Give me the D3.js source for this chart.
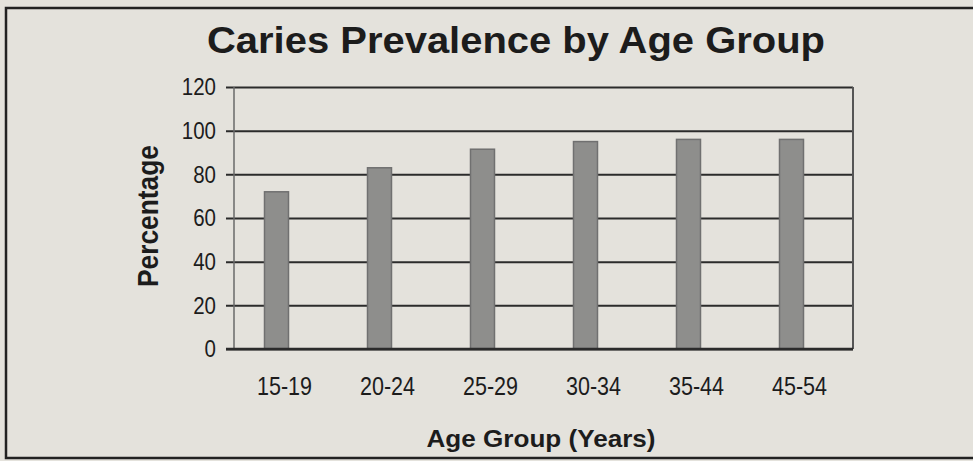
<!DOCTYPE html>
<html>
<head>
<meta charset="utf-8">
<script src="https://cdn.jsdelivr.net/npm/d3@7"></script>
<style>
  body { margin: 0; background: #e4e2dc; }
  svg { display: block; }
  text { font-family: "Liberation Sans", Arial, Helvetica, sans-serif; fill: #1c1c1c; }
</style>
</head>
<body>
<svg id="chart"></svg>
<script>
// values
const ageGroups = ["15-19", "20-24", "25-29", "30-34", "35-44", "45-54"];
const prevalence = [72, 83, 91.5, 95, 96, 96];
const yTicks = [0, 20, 40, 60, 80, 100, 120];

const W = 973, H = 461;
const svg = d3.select("#chart").attr("width", W).attr("height", H);

// newsprint background + outer frame
svg.append("rect").attr("width", W).attr("height", H).attr("fill", "#e4e2dc");
svg.append("path")
    .attr("d", `M${W},8 H6 V458 H${W}`)
    .attr("fill", "none")
    .attr("stroke", "#222")
    .attr("stroke-width", 2.5);

const plot = { left: 234, right: 853, top: 87, bottom: 349 };

const x = d3.scaleBand()
    .domain(ageGroups)
    .range([225, 843])
    .paddingInner(0.767)
    .paddingOuter(0.767 / 2);

const y = d3.scaleLinear()
    .domain([0, 120])
    .range([plot.bottom, plot.top]);

// gridlines with tick labels (axis sits on the right edge, lines run left)
const yAxis = svg.append("g")
    .attr("transform", `translate(${plot.right},0)`)
    .call(d3.axisLeft(y).tickValues(yTicks).tickSize(plot.right - 226).tickPadding(10));
yAxis.select(".domain").remove();
yAxis.selectAll("line").attr("stroke", "#2b2b2b").attr("stroke-width", 2);
yAxis.selectAll("text")
    .attr("font-size", 24)
    .attr("fill", "#1c1c1c")
    .attr("textLength", d => String(d).length * 11.4)
    .attr("lengthAdjust", "spacingAndGlyphs")
    .style("font-family", '"Liberation Sans", Arial, sans-serif');

// plot area side lines
svg.append("line")
    .attr("x1", plot.left).attr("x2", plot.left)
    .attr("y1", plot.top).attr("y2", plot.bottom)
    .attr("stroke", "#6a6a6a").attr("stroke-width", 1.5);
svg.append("line")
    .attr("x1", plot.right).attr("x2", plot.right)
    .attr("y1", plot.top).attr("y2", plot.bottom)
    .attr("stroke", "#555").attr("stroke-width", 2);

// bars
svg.selectAll(".bar")
    .data(prevalence)
    .join("rect")
    .attr("class", "bar")
    .attr("x", (d, i) => x(ageGroups[i]))
    .attr("y", d => y(d))
    .attr("width", x.bandwidth())
    .attr("height", d => y(0) - y(d))
    .attr("fill", "#8e8e8c")
    .attr("stroke", "#707070")
    .attr("stroke-width", 1.5);

// baseline over the bars' feet
svg.append("line")
    .attr("x1", 226).attr("x2", plot.right)
    .attr("y1", y(0)).attr("y2", y(0))
    .attr("stroke", "#2b2b2b").attr("stroke-width", 2.5);

// category labels
const xAxis = svg.append("g")
    .attr("transform", `translate(0,${plot.bottom})`)
    .call(d3.axisBottom(x).tickSize(0).tickPadding(28));
xAxis.select(".domain").remove();
xAxis.selectAll("text")
    .attr("dx", 8)
    .attr("font-size", 25)
    .attr("fill", "#1c1c1c")
    .attr("textLength", 55)
    .attr("lengthAdjust", "spacingAndGlyphs")
    .style("font-family", '"Liberation Sans", Arial, sans-serif');

// titles
svg.append("text")
    .attr("x", 516).attr("y", 53)
    .attr("text-anchor", "middle")
    .attr("font-size", 37)
    .attr("font-weight", "bold")
    .attr("textLength", 618)
    .attr("lengthAdjust", "spacingAndGlyphs")
    .text("Caries Prevalence by Age Group");

svg.append("text")
    .attr("transform", "translate(158,216) rotate(-90)")
    .attr("text-anchor", "middle")
    .attr("font-size", 30)
    .attr("font-weight", "bold")
    .attr("textLength", 142)
    .attr("lengthAdjust", "spacingAndGlyphs")
    .text("Percentage");

svg.append("text")
    .attr("x", 541).attr("y", 447)
    .attr("text-anchor", "middle")
    .attr("font-size", 24)
    .attr("font-weight", "bold")
    .attr("textLength", 229)
    .attr("lengthAdjust", "spacingAndGlyphs")
    .text("Age Group (Years)");
</script>
</body>
</html>
